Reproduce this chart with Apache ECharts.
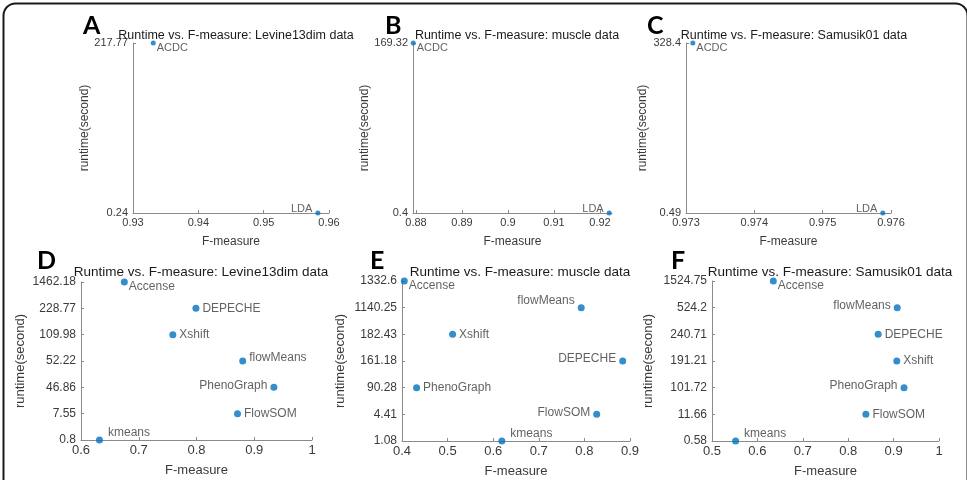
<!DOCTYPE html>
<html>
<head>
<meta charset="utf-8">
<script src="https://cdn.jsdelivr.net/npm/echarts@6/dist/echarts.min.js"></script>
<style>
  html, body { margin: 0; padding: 0; background: #fff; }
  #chart { width: 967px; height: 480px; }
</style>
</head>
<body>
<div id="chart"></div>
<script>
// y labels are listed bottom -> top, methods and F-measure follow the same order
const yLabelsA = ['0.24', '217.77'];
const methodsA = ['LDA', 'ACDC'];
const fmeasureA = [0.9583, 0.9331];

const yLabelsB = ['0.4', '169.32'];
const methodsB = ['LDA', 'ACDC'];
const fmeasureB = [0.9220, 0.8794];

const yLabelsC = ['0.49', '328.4'];
const methodsC = ['LDA', 'ACDC'];
const fmeasureC = [0.97588, 0.97310];

const yLabelsD = ['0.8', '7.55', '46.86', '52.22', '109.98', '228.77', '1462.18'];
const methodsD = ['kmeans', 'FlowSOM', 'PhenoGraph', 'flowMeans', 'Xshift', 'DEPECHE', 'Accense'];
const fmeasureD = [0.632, 0.871, 0.934, 0.880, 0.759, 0.799, 0.675];

const yLabelsE = ['1.08', '4.41', '90.28', '161.18', '182.43', '1140.25', '1332.6'];
const methodsE = ['kmeans', 'FlowSOM', 'PhenoGraph', 'DEPECHE', 'Xshift', 'flowMeans', 'Accense'];
const fmeasureE = [0.619, 0.827, 0.432, 0.884, 0.511, 0.793, 0.405];

const yLabelsF = ['0.58', '11.66', '101.72', '191.21', '240.71', '524.2', '1524.75'];
const methodsF = ['kmeans', 'FlowSOM', 'PhenoGraph', 'Xshift', 'DEPECHE', 'flowMeans', 'Accense'];
const fmeasureF = [0.552, 0.839, 0.923, 0.907, 0.866, 0.908, 0.635];

const xTicksA = [0.93, 0.94, 0.95, 0.96];
const xTicksB = [0.88, 0.89, 0.9, 0.91, 0.92];
const xTicksC = [0.973, 0.974, 0.975, 0.976];
const xTicksD = [0.6, 0.7, 0.8, 0.9, 1];
const xTicksE = [0.4, 0.5, 0.6, 0.7, 0.8, 0.9];
const xTicksF = [0.5, 0.6, 0.7, 0.8, 0.9, 1];

const datasetNames = ['Levine13dim', 'muscle', 'Samusik01', 'Levine13dim', 'muscle', 'Samusik01'];
const letters = ['A', 'B', 'C', 'D', 'E', 'F'];

const FONT = '"Liberation Sans", Arial, sans-serif';
const BLUE = '#0072BD';
const AXIS = '#8a8a8a';
const TXT = '#3a3a3a';

// layout (px) of each axes box
const boxes = [
    { left: 133, top: 43, width: 196, height: 170, xmin: 0.93, xmax: 0.96, nameGap: 42 },
    { left: 413, top: 43, width: 199, height: 170, xmin: 0.87935, xmax: 0.92261, nameGap: 42 },
    { left: 686, top: 43, width: 205, height: 170, xmin: 0.973, xmax: 0.976, nameGap: 37 },
    { left: 81, top: 282, width: 231, height: 158, xmin: 0.6, xmax: 1, nameGap: 54 },
    { left: 402, top: 281, width: 228, height: 160, xmin: 0.4, xmax: 0.9, nameGap: 55 },
    { left: 712, top: 281, width: 227, height: 160, xmin: 0.5, xmax: 1, nameGap: 57 }
];
const titleCenters = [231, 512, 789, 196, 515, 825];
const letterPos = [[83, 13], [385, 13], [647, 13], [37, 248], [370, 248], [671, 248]];

// label side for each method: [position, dx, dy]
const RB = ['right', -2, 5], LA = ['left', 0, -4], RA = ['right', 2, -7],
      R = ['right', 0, 0], L = ['left', 0, -2], LU = ['left', 0, -7], RU = ['right', 0, -3];
const labelSides = [
    { ACDC: RB, LDA: LA },
    { ACDC: RB, LDA: LA },
    { ACDC: RB, LDA: LA },
    { kmeans: RA, FlowSOM: R, PhenoGraph: L, flowMeans: RU, Xshift: R, DEPECHE: R, Accense: RB },
    { kmeans: RA, FlowSOM: L, PhenoGraph: R, DEPECHE: L, Xshift: R, flowMeans: LU, Accense: RB },
    { kmeans: RA, FlowSOM: R, PhenoGraph: L, Xshift: R, DEPECHE: R, flowMeans: L, Accense: RB }
];

const yLabelsAll = [yLabelsA, yLabelsB, yLabelsC, yLabelsD, yLabelsE, yLabelsF];
const methodsAll = [methodsA, methodsB, methodsC, methodsD, methodsE, methodsF];
const fmeasureAll = [fmeasureA, fmeasureB, fmeasureC, fmeasureD, fmeasureE, fmeasureF];
const xTicksAll = [xTicksA, xTicksB, xTicksC, xTicksD, xTicksE, xTicksF];

const grids = [], xAxes = [], yAxes = [], series = [], titles = [], graphics = [];

boxes.forEach(function (b, i) {
    const top = i < 3;
    const tickFont = top ? 11 : 13;
    const yFont = top ? 11 : 12;
    grids.push({ left: b.left, top: b.top, width: b.width, height: b.height, outerBoundsMode: 'none' });
    xAxes.push({
        gridIndex: i, type: 'value', min: b.xmin, max: b.xmax,
        name: 'F-measure', nameLocation: 'middle', nameGap: top ? 23 : 24,
        nameTextStyle: { fontFamily: FONT, fontSize: top ? 12 : 13, color: TXT },
        axisLine: { show: true, onZero: false, lineStyle: { color: AXIS, width: 1 } },
        axisTick: { show: true, inside: true, length: 3, lineStyle: { color: AXIS }, customValues: xTicksAll[i] },
        axisLabel: {
            fontFamily: FONT, fontSize: tickFont, color: TXT, margin: 4,
            customValues: xTicksAll[i],
            formatter: function (v) { return String(parseFloat(v.toFixed(4))); }
        },
        splitLine: { show: false }
    });
    yAxes.push({
        gridIndex: i, type: 'category', data: yLabelsAll[i], boundaryGap: false,
        name: 'runtime(second)', nameLocation: 'middle', nameRotate: 90, nameGap: b.nameGap,
        nameTextStyle: { fontFamily: FONT, fontSize: top ? 12 : 13, color: TXT },
        axisLine: { show: true, onZero: false, lineStyle: { color: AXIS, width: 1 } },
        axisTick: { show: true, inside: true, length: 3, lineStyle: { color: AXIS } },
        axisLabel: { fontFamily: FONT, fontSize: yFont, color: TXT, margin: 5, interval: 0 },
        splitLine: { show: false }
    });
    const sides = labelSides[i];
    series.push({
        type: 'scatter', xAxisIndex: i, yAxisIndex: i,
        symbolSize: top ? 5 : 7,
        itemStyle: { color: BLUE },
        clip: false,
        data: methodsAll[i].map(function (m, k) {
            const s = sides[m];
            return {
                value: [fmeasureAll[i][k], k], name: m,
                label: { position: s[0], offset: [s[1], s[2]] }
            };
        }),
        label: {
            show: true, formatter: '{b}', distance: 3,
            fontFamily: FONT, fontSize: top ? 11 : 12, color: TXT
        }
    });
    titles.push({
        text: 'Runtime vs. F-measure: ' + datasetNames[i] + ' data',
        left: titleCenters[i], top: top ? 24 : 260, textAlign: 'center',
        textStyle: { fontFamily: FONT, fontSize: top ? 12.5 : 13.5, fontWeight: 'normal', color: '#1a1a1a' }
    });
    graphics.push({
        type: 'text', left: letterPos[i][0], top: letterPos[i][1],
        style: { text: letters[i], fontFamily: 'Lato, "Open Sans", sans-serif', fontWeight: 'bold', fontSize: 25, fill: '#000' }
    });
});

graphics.push({
    type: 'rect', left: 1, top: 1, z: 100,
    shape: { width: 964, height: 520, r: 12 },
    style: { fill: 'none', stroke: '#1a1a1a', lineWidth: 2 }
});

const chart = echarts.init(document.getElementById('chart'));
chart.setOption({
    animation: false,
    title: titles,
    grid: grids,
    xAxis: xAxes,
    yAxis: yAxes,
    series: series,
    graphic: graphics
});
</script>
</body>
</html>
